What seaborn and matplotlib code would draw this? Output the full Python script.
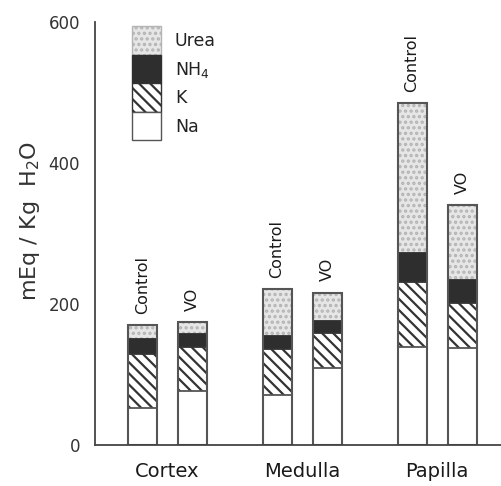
import matplotlib
matplotlib.use("Agg")
import matplotlib.pyplot as plt
import seaborn as sns
import pandas as pd
import numpy as np
from matplotlib.patches import Patch

# ---- data (mEq / Kg H2O) ----
groups = ["Cortex", "Medulla", "Papilla"]
conditions = ["Control", "VO", "Control", "VO", "Control", "VO"]
bar_pos = [0.0, 1.0, 2.7, 3.7, 5.4, 6.4]
group_centers = [0.5, 3.2, 5.9]
na = [52, 77, 71, 109, 139, 138]
k = [77, 62, 65, 50, 92, 63]
nh4 = [21, 18, 19, 17, 41, 33]
urea = [20, 17, 66, 40, 213, 106]
yticks = [0, 200, 400, 600]

sns.set_theme(style="white")
plt.rcParams["font.family"] = ["DejaVu Sans"]
plt.rcParams["hatch.linewidth"] = 1.6

df = pd.DataFrame({"x": bar_pos, "Na": na, "K": k, "NH4": nh4, "Urea": urea})
df["c_Na"] = df["Na"]
df["c_K"] = df["c_Na"] + df["K"]
df["c_NH4"] = df["c_K"] + df["NH4"]
df["c_Urea"] = df["c_NH4"] + df["Urea"]

fig = plt.figure(figsize=(5.01, 4.86), dpi=100)
ax = fig.add_axes([0.19, 0.084, 0.81, 0.871])

edge = "#555555"
urea_style = dict(facecolor="#e6e6e6", hatch="...", edgecolor="#b4b4b4")
nh4_style = dict(facecolor="#2e2e2e", hatch=None, edgecolor="#2e2e2e")
k_style = dict(facecolor="white", hatch="\\\\\\", edgecolor="#333333")
na_style = dict(facecolor="white", hatch=None, edgecolor=edge)
styles = [("c_Urea", urea_style), ("c_NH4", nh4_style), ("c_K", k_style), ("c_Na", na_style)]
for col, st in styles:
    sns.barplot(data=df, x="x", y=col, native_scale=True, errorbar=None,
                width=0.58, color=st["facecolor"], saturation=1, ax=ax,
                hatch=st["hatch"], edgecolor=st["edgecolor"], linewidth=1.3)
# outline of whole bars
sns.barplot(data=df, x="x", y="c_Urea", native_scale=True, errorbar=None,
            width=0.58, fill=False, ax=ax, edgecolor=edge, linewidth=1.5)

for x, top, cond in zip(bar_pos, df["c_Urea"], conditions):
    ax.text(x, top + 16, cond, rotation=90, ha="center", va="bottom",
            fontsize=11.5, color="#1a1a1a")

ax.set_xlim(-0.94, 7.18)
ax.set_ylim(0, 600)
ax.set_yticks(yticks)
ax.set_yticklabels([str(v) for v in yticks], fontsize=12, color="#333333")
ax.set_xticks(group_centers)
ax.set_xticklabels(groups, fontsize=14, color="#1a1a1a")
ax.tick_params(axis="x", length=0, pad=12)
ax.tick_params(axis="y", direction="inout", length=6, width=1, color="#444444", pad=8)
ax.set_xlabel("")
ax.set_ylabel("mEq / Kg  H$_2$O", fontsize=16, color="#333333")
ax.yaxis.set_label_coords(-0.13, 0.53)
for s in ["top", "right"]:
    ax.spines[s].set_visible(False)
for s in ["left", "bottom"]:
    ax.spines[s].set_color("#444444")
    ax.spines[s].set_linewidth(1.3)

handles = [
    Patch(label="Urea", **urea_style),
    Patch(label="NH$_4$", **nh4_style),
    Patch(label="K", **k_style),
    Patch(label="Na", **na_style),
]
leg = ax.legend(handles=handles, loc="upper left", bbox_to_anchor=(0.07, 1.01),
                frameon=False, fontsize=12.5, handlelength=1.65, handleheight=2.15,
                labelspacing=0.0, borderpad=0, handletextpad=0.8)
for t in leg.get_texts():
    t.set_color("#222222")

fig.savefig("out.png", dpi=100)
